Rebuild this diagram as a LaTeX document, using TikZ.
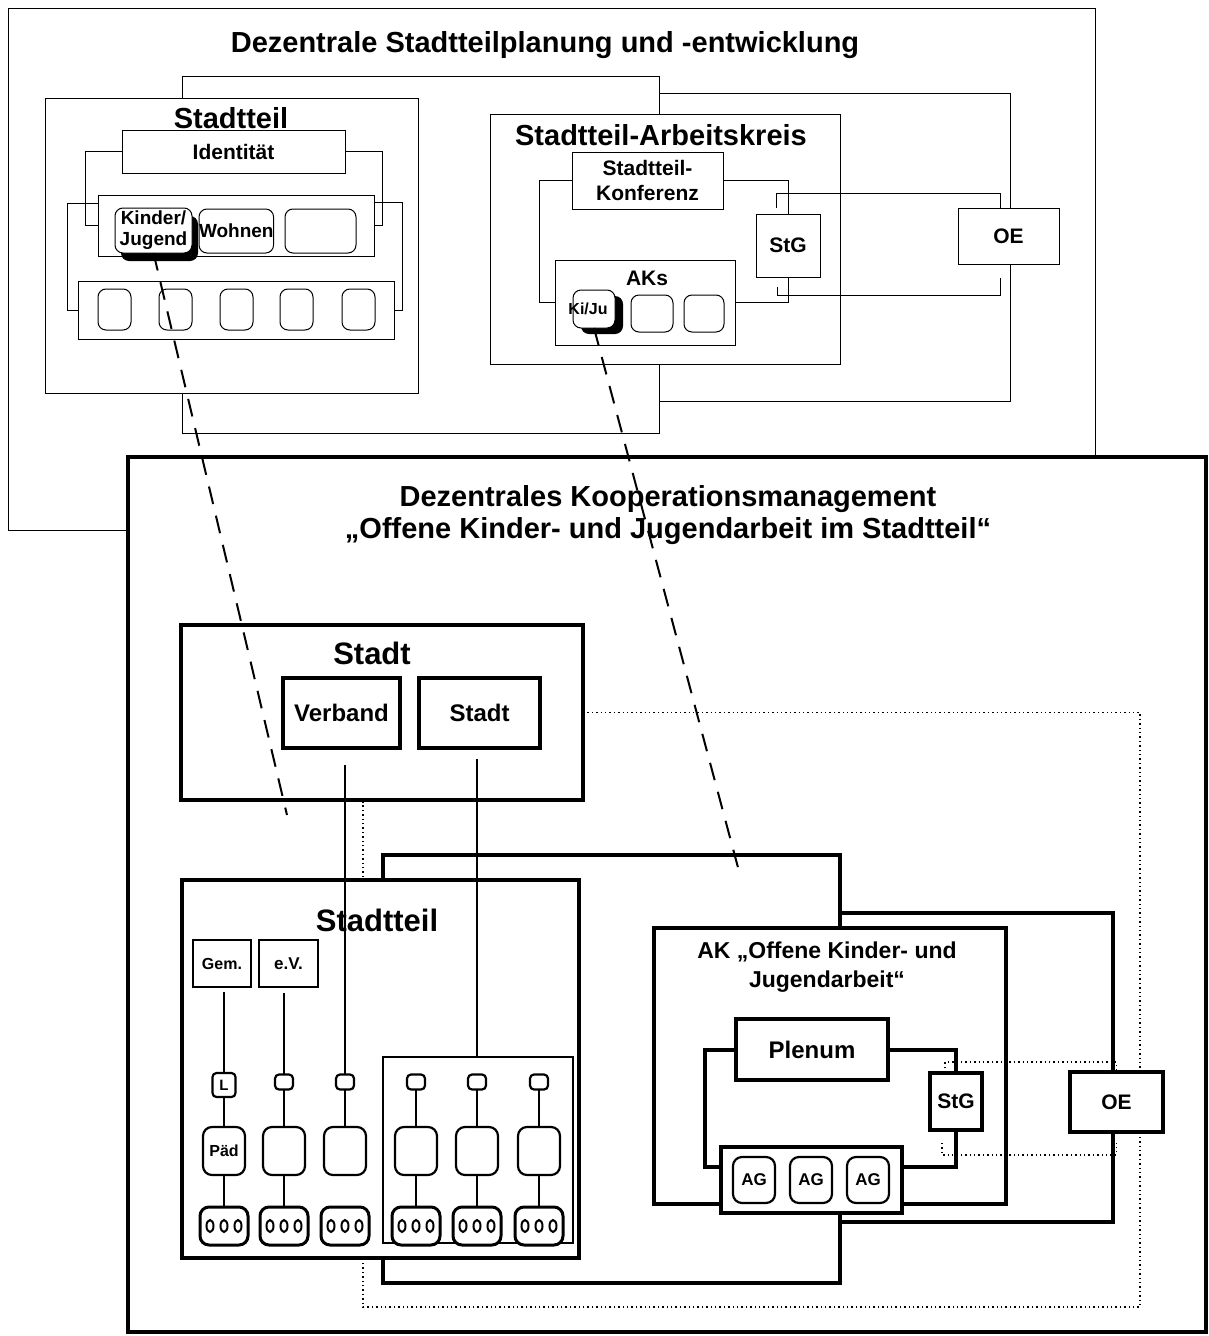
\documentclass[tikz,border=0pt]{standalone}
\usepackage{fontspec}
\setmainfont{Liberation Sans}
\usetikzlibrary{shadows}
\pgfdeclarelayer{back}
\pgfsetlayers{back,main}
\newcommand\fs[2]{\fontsize{#1pt}{#2pt}\selectfont\bfseries}
\begin{document}
\begin{tikzpicture}[x=1pt,y=-1pt,
  every node/.style={inner sep=0pt, outer sep=0pt},
  wh/.style 2 args={minimum width=#1pt, minimum height=#2pt},
  tbox/.style={draw, line width=1pt, fill=white, anchor=north west},
  trbox/.style={tbox, rounded corners=8pt},
  hbox/.style={draw, line width=4pt, fill=white, anchor=north west},
  mbox/.style={draw, line width=2.5pt, fill=white, anchor=north west},
  xtab/.style={draw, line width=2.2pt, fill=white, rounded corners=4pt, anchor=center},
  xcell/.style={draw, line width=2.2pt, fill=white, rounded corners=9pt, anchor=center},
  xring/.style={draw, line width=3pt, fill=white, rounded corners=9pt, anchor=center},
  thinline/.style={line width=1pt},
  heavy/.style={line width=4pt},
  stem/.style={line width=2pt},
  dotline/.style={line width=1.4pt, dash pattern=on 1.4pt off 3pt},
  dashline/.style={line width=2pt, dash pattern=on 18pt off 12pt}
]
\useasboundingbox (0,0) rectangle (1209,1336);

% ---------------- planning level ----------------
\node[anchor=north west, wh={1087}{522}] (plan) at (8,8) {};
\node[font=\fs{29}{33}] (plantitle) at (545,45) {Dezentrale Stadtteilplanung und -entwicklung};

% frames behind the district and its working group
\node[tbox, wh={410}{308}] (bfB) at (600,93) {};
\node[tbox, wh={477}{357}] (bfA) at (182,76) {};

% district
\node[tbox, wh={373}{295}] (st1) at (45,98) {};
\node[font=\fs{29}{33}] (st1t) at (231,118) {Stadtteil};
\node[tbox, wh={223}{43}, font=\fs{21}{24}] (ident) at (122,130) {Identität};
\node[tbox, wh={276}{61}] (mid) at (98,195) {};
\node[trbox, wh={77}{45}, general shadow={fill=black, shadow xshift=6pt, shadow yshift=-8pt},
      font=\fs{19}{21}, align=center] (kj) at (115,208) {Kinder/\\Jugend};
\node[trbox, wh={71}{44}, font=\fs{19}{21}] (wohn) at (199,209) {Wohnen};
\node[trbox, wh={71}{44}] (mid3) at (285,209) {};
\node[tbox, wh={316}{58}] (bot) at (78,281) {};
\foreach \x [count=\i] in {98,159,220,280,342}
  \node[trbox, wh={33}{41}] (b\i) at (\x,289) {};

\draw[thinline] (ident.west) -- ++(-37,0) |- (mid.west);
\draw[thinline] (ident.east) -- ++(37,0) |- (mid.east);
\draw[thinline] ([yshift=22pt]mid.west) -- ++(-31,0) |- (bot.west);
\draw[thinline] ([yshift=23pt]mid.east) -- ++(28,0) |- (bot.east);

% district working group
\node[tbox, wh={350}{250}] (sak) at (490,114) {};
\node[font=\fs{29}{33}] (sakt) at (661,135) {Stadtteil-Arbeitskreis};
\node[tbox, wh={151}{57}, font=\fs{21}{25}, align=center] (konf) at (572,152) {Stadtteil-\\Konferenz};
\node[tbox, wh={64}{63}, font=\fs{21}{24}] (stg1) at (756,214) {StG};
\node[tbox, wh={180}{85}] (aks) at (555,260) {};
\node[font=\fs{21}{24}] (akst) at (647,278) {AKs};
\node[trbox, wh={42}{38}, general shadow={fill=black, shadow xshift=8pt, shadow yshift=-6pt},
      font=\fs{16}{18}] (kiju) at (573,290) {\hspace*{-12pt}Ki/Ju};
\node[trbox, wh={42}{37}] (ak2) at (631,295) {};
\node[trbox, wh={40}{37}] (ak3) at (684,295) {};
\node[tbox, wh={101}{56}, font=\fs{21}{24}] (oe1) at (958,208) {OE};

\draw[thinline] (konf.east) -| (stg1.north);
\draw[thinline] (konf.west) -- ++(-33,0) |- (aks.west);
\draw[thinline] (stg1.south) |- (aks.east);
\coordinate (u1) at (776,208);
\coordinate (u2) at (777,287);
\draw[thinline] (u1) -- ++(0,-15) -| ([xshift=-8pt]oe1.north);
\draw[thinline] (u2) -- ++(0,8) -| ([xshift=-8pt,yshift=-14pt]oe1.south);

% ---------------- cooperation management ----------------
\node[draw, line width=4pt, anchor=north west, wh={1078}{875}] (koop) at (128,457) {};
\draw[thinline] (koop.north west |- plan.south) -- (plan.south west) -- (plan.north west)
  -- (plan.north east) -- (plan.east |- koop.north);
\node[font=\fs{29}{32}, align=center] (kooptitle) at (668,515)
  {Dezentrales Kooperationsmanagement\\„Offene Kinder- und Jugendarbeit im Stadtteil“};

% frames behind district and AK
\node[hbox, wh={513}{309}] (akb) at (600,913) {};
\node[hbox, wh={457}{428}] (lbf) at (383,855) {};

% city
\node[hbox, wh={402}{175}] (sb) at (181,625) {};
\node[font=\fs{31}{34}] (sbt) at (372,653) {Stadt};
\node[hbox, wh={117}{70}, font=\fs{24}{28}] (verb) at (283,678) {Verband};
\node[hbox, wh={121}{70}, font=\fs{24}{28}] (stadtin) at (419,678) {Stadt};

% dotted loop from the city to OE
\coordinate (dc) at (1140,1307);
\coordinate (dl) at (363,802);
\begin{pgfonlayer}{back}
  \draw[dotline] (sb.east) -| (dc) -| (dl);
\end{pgfonlayer}

% district
\node[hbox, wh={397}{378}] (stl) at (182,880) {};
\node[font=\fs{31}{34}] (stlt) at (377,920) {Stadtteil};
\node[mbox, wh={58}{47}, font=\fs{16}{18}] (gem) at (193,940) {Gem.};
\node[mbox, wh={59}{47}, font=\fs{17}{19}] (ev) at (259,940) {e.V.};
\node[draw, line width=1.5pt, fill=white, anchor=north west, wh={190}{186}] (sub) at (383,1057) {};

\node[xtab, wh={23}{24}, font=\fs{15}{17}] (s1) at (224,1085) {L};
\foreach \x [count=\i from 2] in {284,345,416,477,539}
  \node[xtab, wh={18}{15}] (s\i) at (\x,1082) {};
\node[xcell, wh={42}{48}, font=\fs{16}{18}] (r1) at (224,1151) {Päd};
\foreach \x [count=\i from 2] in {284,345,416,477,539}
  \node[xcell, wh={42}{48}] (r\i) at (\x,1151) {};
\foreach \x [count=\i] in {224,284,345,416,477,539}
  \node[xring, wh={48}{38}] (o\i) at (\x,1226) {};
\foreach \i in {1,...,6}
  \foreach \dx in {-14,0,14}
    \draw[line width=2pt] ([xshift=\dx pt]o\i.center) ellipse [x radius=3.5pt, y radius=6pt];

\draw[stem, shorten <=5pt] (s1.north |- gem.south) -- (s1.north);
\draw[stem, shorten <=6pt] (s2.north |- ev.south) -- (s2.north);
\foreach \i in {1,...,6} \draw[stem] (s\i.south) -- (r\i.north);
\foreach \i in {1,2,4,5,6} \draw[stem] (r\i.south) -- (o\i.north);
\draw[stem, shorten <=17pt] (s3.north |- verb.south) -- (s3.north);
\draw[stem, shorten <=11pt] (s5.north |- stadtin.south) -- (s5.north |- sub.north);

% AK open youth work
\node[hbox, wh={352}{276}] (ak) at (654,928) {};
\node[font=\fs{23}{29}, align=center] (akt) at (827,967) {AK „Offene Kinder- und\\Jugendarbeit“};
\node[hbox, wh={152}{61}, font=\fs{24}{28}] (plen) at (736,1019) {Plenum};
\node[hbox, wh={52}{57}, font=\fs{21}{24}] (stg2) at (930,1073) {StG};
\node[hbox, wh={181}{66}] (agc) at (721,1147) {};
\foreach \x [count=\i] in {754,811,868}
  \node[xcell, wh={42}{46}, font=\fs{17}{19}] (ag\i) at (\x,1180) {AG};
\draw[heavy] (plen.west) -- ++(-31,0) |- ([yshift=13pt]agc.west);
\draw[heavy] (plen.east) -| (stg2.north);
\draw[heavy] (stg2.south) |- ([yshift=13pt]agc.east);
\node[hbox, wh={93}{60}, font=\fs{21}{24}] (oe2) at (1070,1072) {OE};
\coordinate (d1) at (945,1068);
\coordinate (d2) at (942,1143);
\draw[dotline] (d1) -- ++(0,-6) -| (oe2.north);
\draw[dotline] (d2) -- ++(0,12) -| ([yshift=-11pt]oe2.south);

% links between the two levels
\coordinate (e1) at (287,815);
\coordinate (e2) at (740,875);
\draw[dashline] (kj.south) -- (e1);
\draw[dashline] (kiju.south) -- (e2);
\end{tikzpicture}
\end{document}
